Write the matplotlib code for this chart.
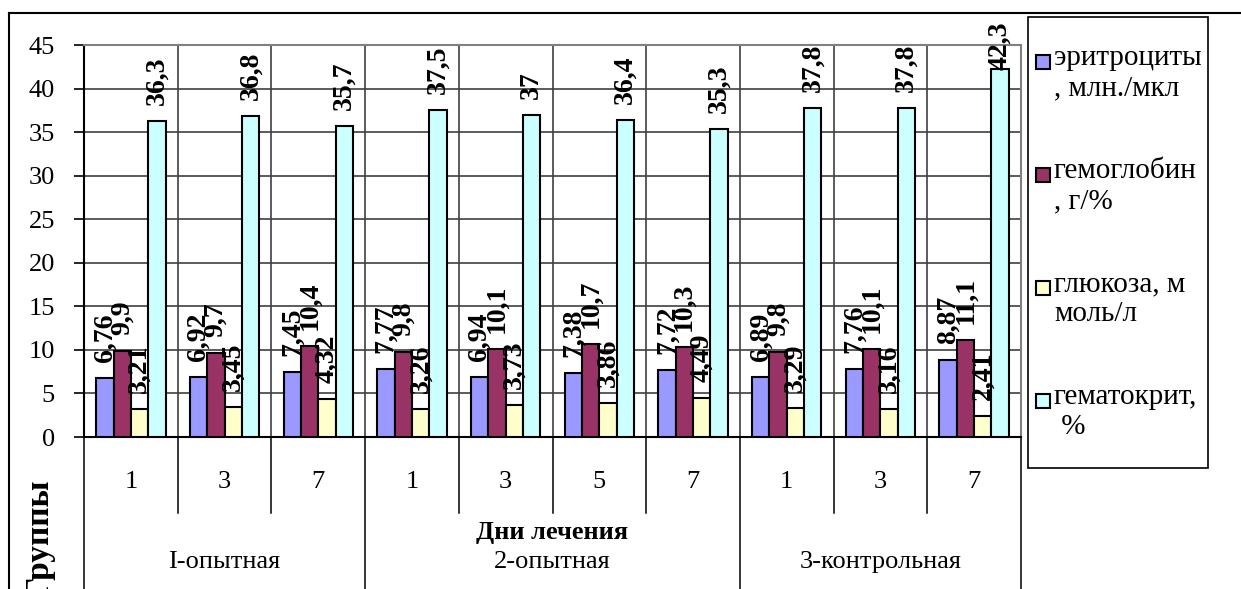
import matplotlib
matplotlib.use("Agg")
import matplotlib.pyplot as plt
from matplotlib.patches import Rectangle
import numpy as np

plt.rcParams['font.family'] = ['Liberation Serif', 'DejaVu Serif']

days = ["1", "3", "7", "1", "3", "5", "7", "1", "3", "7"]
groups = ["I-опытная", "2-опытная", "3-контрольная"]
group_sizes = [3, 4, 3]

series_names = ["эритроциты\n, млн./мкл", "гемоглобин\n, г/%",
                "глюкоза, м\nмоль/л", "гематокрит,\n %"]
colors = ["#9999FF", "#993366", "#FFFFCC", "#CCFFFF"]

erythrocytes = [6.76, 6.92, 7.45, 7.77, 6.94, 7.38, 7.72, 6.89, 7.76, 8.87]
hemoglobin = [9.9, 9.7, 10.4, 9.8, 10.1, 10.7, 10.3, 9.8, 10.1, 11.1]
glucose = [3.21, 3.45, 4.32, 3.26, 3.73, 3.86, 4.49, 3.29, 3.16, 2.41]
hematocrit = [36.3, 36.8, 35.7, 37.5, 37, 36.4, 35.3, 37.8, 37.8, 42.3]

W, H = 1241, 589
fig = plt.figure(figsize=(W / 100, H / 100), dpi=100)

# plot area in pixel terms
x0, x1, y0, y1 = 84, 1021, 437, 45
ax = fig.add_axes([x0 / W, (H - y0) / H, (x1 - x0) / W, (y0 - y1) / H])

x = np.arange(len(days))
w = 0.185
all_series = [erythrocytes, hemoglobin, glucose, hematocrit]
for k, (vals, col) in enumerate(zip(all_series, colors)):
    ax.bar(x + (k - 1.5) * w, vals, w, color=col, edgecolor='black',
           linewidth=1.5, zorder=3)

# value labels, kept inside the chart frame
px_per_unit = (y0 - y1) / 45
pad = 16 / px_per_unit
top_limit = 45 + (y1 - 22) / px_per_unit - 48 / px_per_unit
for k, vals in enumerate(all_series):
    for i, v in enumerate(vals):
        ly = min(v + pad, top_limit)
        ax.text(x[i] + (k - 1.5) * w, ly, f"{v:g}".replace('.', ','),
                rotation=90, ha='center', va='bottom', fontsize=20,
                fontweight='bold', zorder=5, clip_on=False)

ax.set_xlim(-0.5, len(days) - 0.5)
ax.set_ylim(0, 45)
ax.set_yticks(range(0, 46, 5))
ax.tick_params(axis='y', direction='out', length=7, width=1.2, pad=14,
               labelsize=19)
ax.tick_params(axis='x', bottom=False, labelbottom=False)
ax.yaxis.grid(True, color='#404040', linewidth=1.2, zorder=1)
ax.set_axisbelow(True)
for b in np.arange(0.5, len(days) - 1, 1.0):
    ax.axvline(b, color='#404040', linewidth=1.2, zorder=1)

for s in ['left', 'bottom']:
    ax.spines[s].set_color('black')
    ax.spines[s].set_linewidth(1.5)
for s in ['top', 'right']:
    ax.spines[s].set_color('#808080')
    ax.spines[s].set_linewidth(1.5)

# two-level category axis below the plot
tr = ax.get_xaxis_transform()


def yf(p):
    return (y0 - p) / (y0 - y1)


group_edges = np.cumsum([0] + group_sizes) - 0.5
for b in np.arange(-0.5, len(days), 1.0):
    bottom = H if np.any(np.isclose(b, group_edges)) else 513
    ax.plot([b, b], [0, yf(bottom)], transform=tr, color='black',
            linewidth=1.1, clip_on=False)

for i, d in enumerate(days):
    ax.text(i, yf(482), d, transform=tr, ha='center', va='center', fontsize=19)

for g, a, n in zip(groups, group_edges[:-1], group_sizes):
    ax.text(a + n / 2, yf(562), g, transform=tr, ha='center', va='center',
            fontsize=19)

ax.text(0.5, yf(532), "Дни лечения", transform=ax.transAxes, ha='center',
        va='center', fontsize=19, fontweight='bold')

# frame, vertical title and legend
ov = fig.add_axes([0, 0, 1, 1])
ov.set_xlim(0, W)
ov.set_ylim(H, 0)
ov.axis('off')
ov.plot([9, W], [12.5, 12.5], color='black', linewidth=1.5)
ov.plot([9, 9], [12.5, H], color='black', linewidth=1.5)
ov.text(40, 480, "Группы", rotation=90, ha='center', va='top', fontsize=24,
        fontweight='bold')

ov.add_patch(Rectangle((1028, 17), 180, 451, fill=False, edgecolor='black',
                       linewidth=1.2))
for k, (name, col) in enumerate(zip(series_names, colors)):
    yc = 62 + k * 113
    ov.add_patch(Rectangle((1036, yc - 7), 14, 14, facecolor=col,
                           edgecolor='black', linewidth=1.5))
    ov.text(1054, yc - 17, name, ha='left', va='top', fontsize=21,
            linespacing=1.2)

fig.savefig("out.png", dpi=100)
